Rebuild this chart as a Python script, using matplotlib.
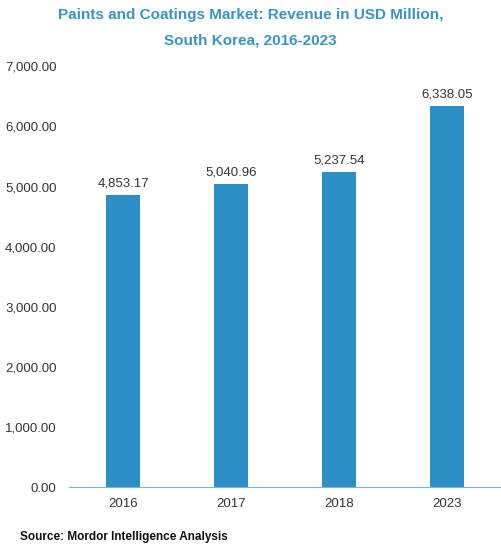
import matplotlib
matplotlib.use("Agg")
from matplotlib import pyplot as plt

years = ["2016", "2017", "2018", "2023"]
revenue = [4853.17, 5040.96, 5237.54, 6338.05]
yticks = [0, 1000, 2000, 3000, 4000, 5000, 6000, 7000]

plt.rcParams['font.family'] = ['Liberation Sans', 'DejaVu Sans']

fig = plt.figure(figsize=(5.01, 5.48), dpi=100)
ax = fig.add_axes([0.138, 0.111, 0.862, 0.768])

x = range(len(years))
bars = ax.bar(x, revenue, width=0.31, color="#2E8FC6")
for b, v in zip(bars, revenue):
    ax.text(b.get_x() + b.get_width() / 2, v + 90, f"{v:,.2f}",
            ha="center", va="bottom", fontsize=9.5, color="#333333")

ax.set_xlim(-0.5, len(years) - 0.5)
ax.set_ylim(0, 7000)
ax.set_yticks(yticks)
ax.set_yticklabels([f"{t:,.2f}" for t in yticks])
ax.set_xticks(list(x))
ax.set_xticklabels(years)
ax.tick_params(axis="both", length=0, labelsize=9.5, labelcolor="#333333")
ax.tick_params(axis="y", pad=9)
ax.tick_params(axis="x", pad=8)

for s in ["top", "right", "left"]:
    ax.spines[s].set_visible(False)
ax.spines["bottom"].set_color("#7FB5D8")

fig.text(0.5, 0.972, "Paints and Coatings Market: Revenue in USD Million,",
         ha="center", va="center", fontsize=11, fontweight="bold", color="#3B93C4")
fig.text(0.5, 0.926, "South Korea, 2016-2023",
         ha="center", va="center", fontsize=11, fontweight="bold", color="#3B93C4")
fig.text(0.04, 0.02, "Source: Mordor Intelligence Analysis",
         ha="left", va="center", fontsize=8.5, fontweight="bold", color="#111111")

fig.savefig("out.png", dpi=100)
